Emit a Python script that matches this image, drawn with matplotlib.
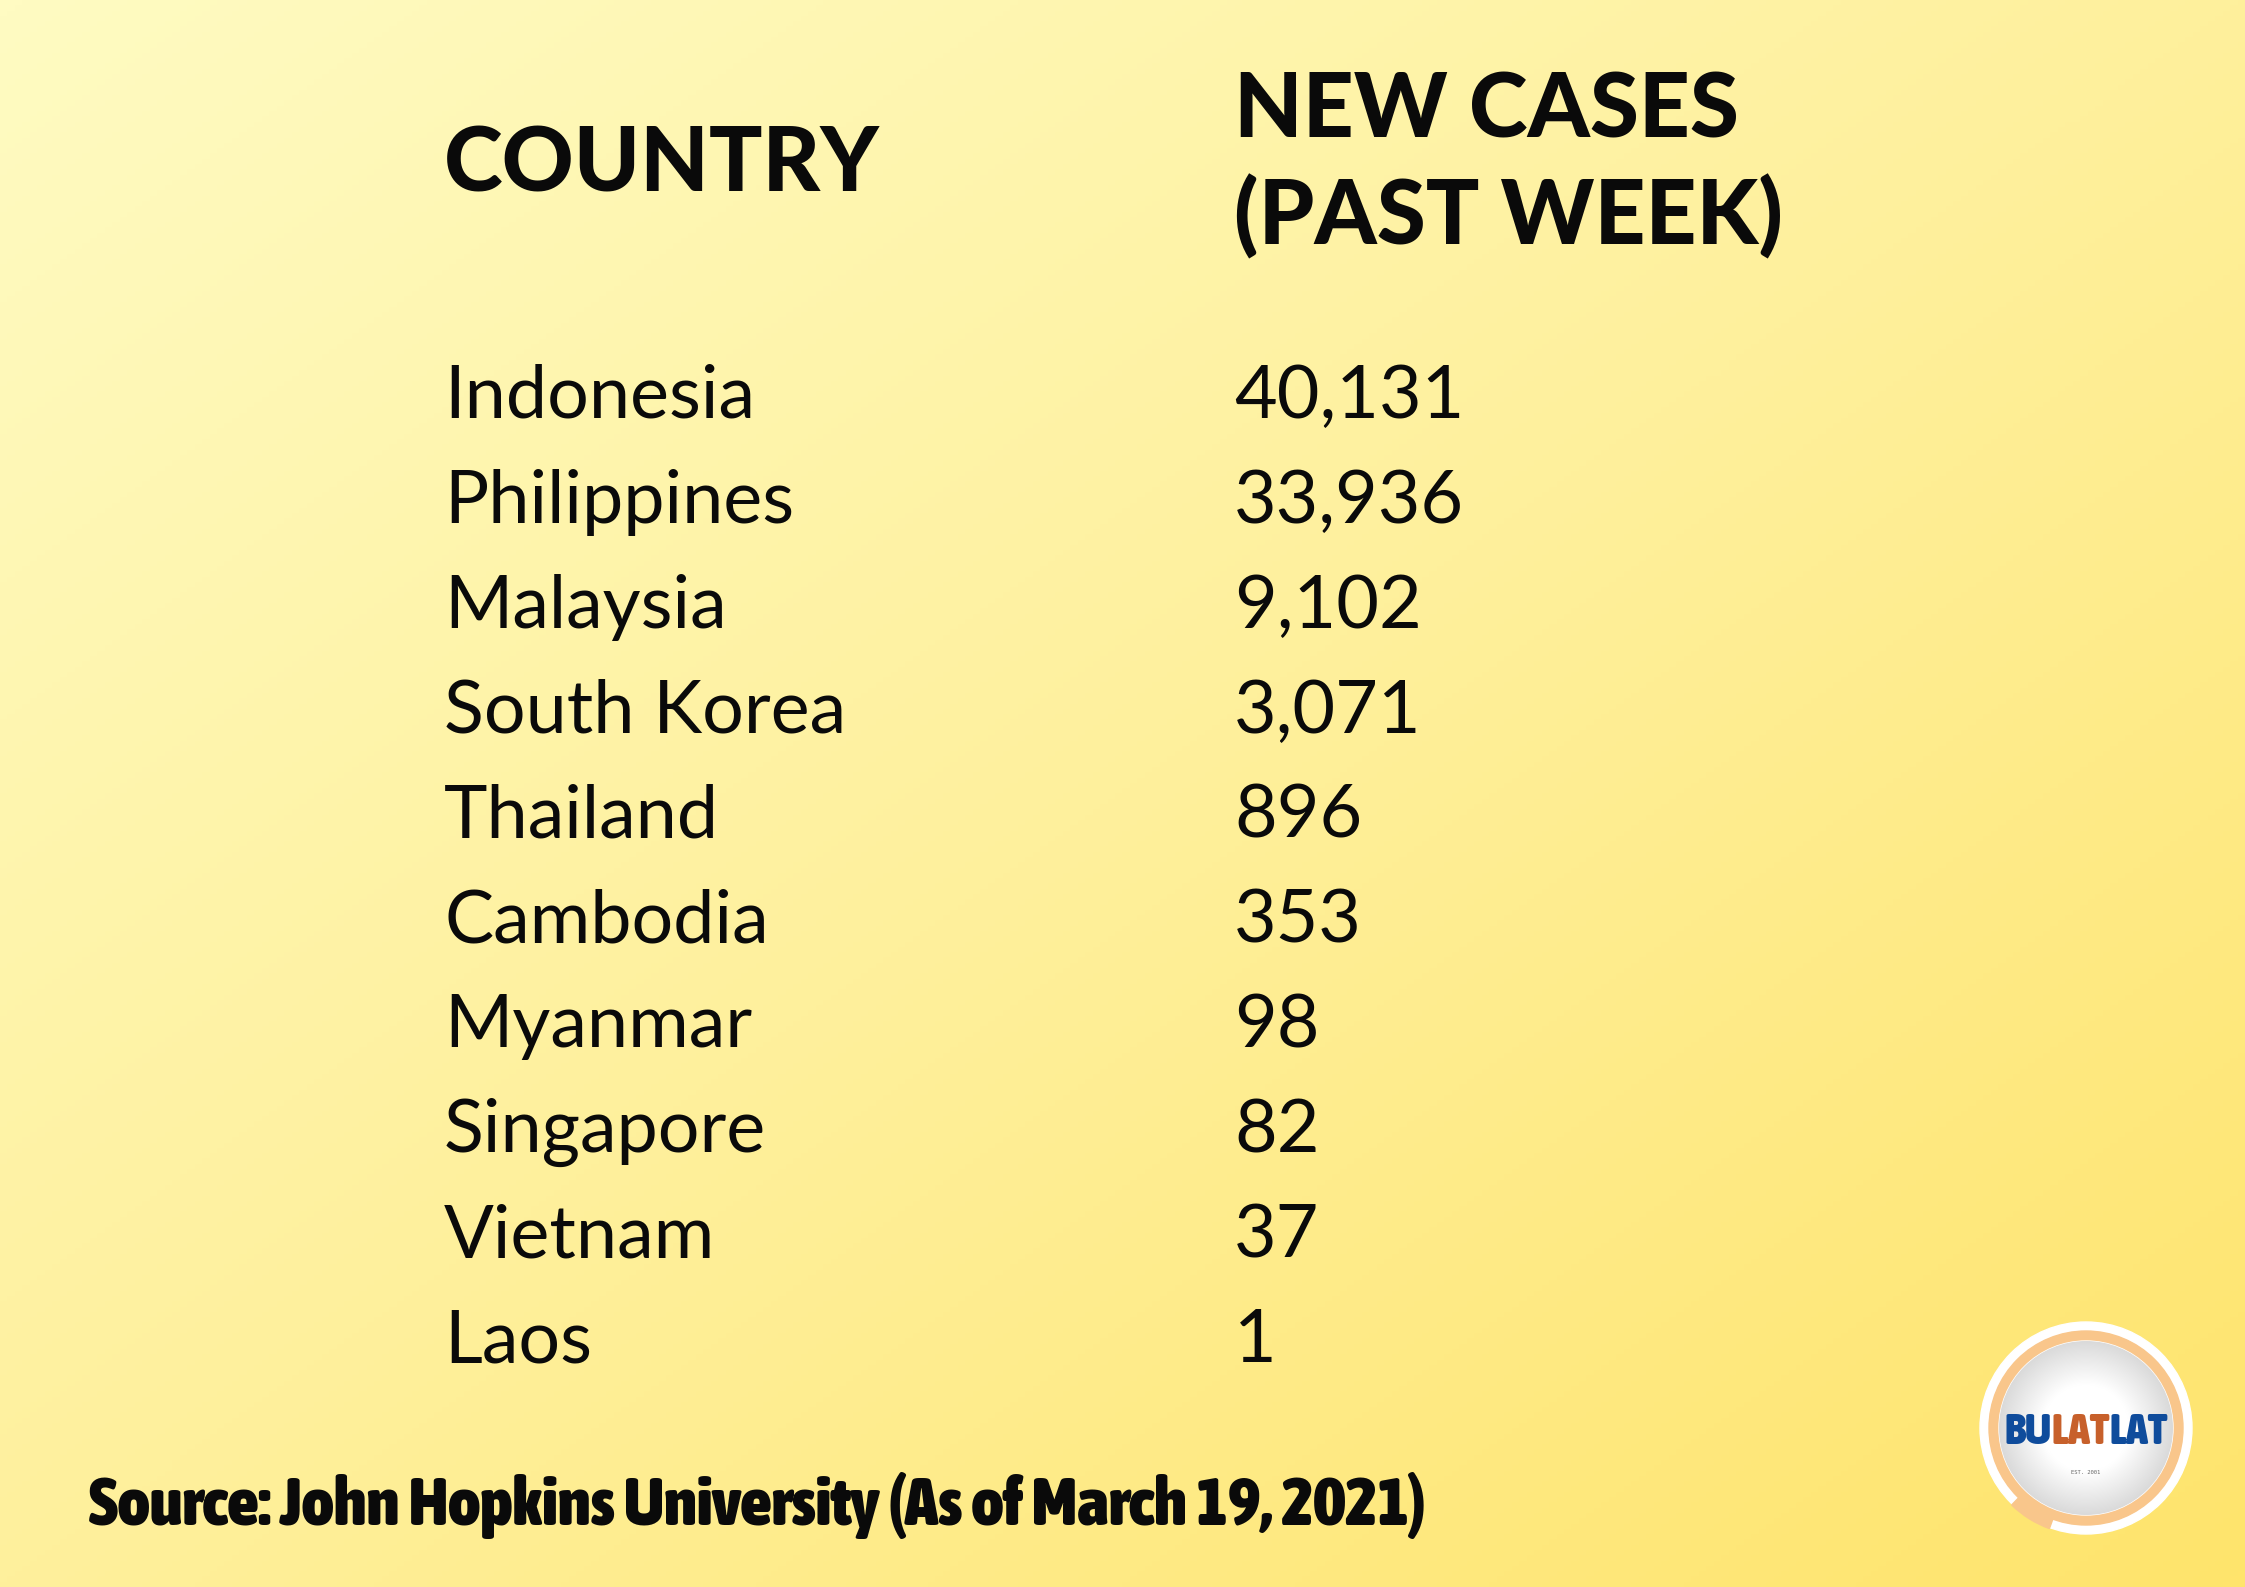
import numpy as np
import matplotlib
matplotlib.use("Agg")
import matplotlib.pyplot as plt
from matplotlib import font_manager as fm
from matplotlib.patches import Circle, Wedge
from matplotlib.colors import LinearSegmentedColormap

# table data
header_country = "COUNTRY"
header_cases = ["NEW CASES", "(PAST WEEK)"]
countries = ["Indonesia", "Philippines", "Malaysia", "South Korea", "Thailand",
             "Cambodia", "Myanmar", "Singapore", "Vietnam", "Laos"]
new_cases = [40131, 33936, 9102, 3071, 896, 353, 98, 82, 37, 1]
source_text = "Source: John Hopkins University (As of March 19, 2021)"
logo_parts = [("BU", "#0F4C9C"), ("LAT", "#C7602B"), ("LAT", "#0F4C9C")]


def wnum(w):
    if isinstance(w, str):
        return fm.weight_dict.get(w, 400)
    return int(w)


def pick_font(cond, default_family, default_weight):
    # look through installed fonts, take the heaviest one that passes cond
    best = None
    for f in fm.fontManager.ttflist:
        if cond(f):
            key = (wnum(f.weight),)
            if best is None or key > best[0]:
                best = (key, f.fname)
    if best is not None:
        return fm.FontProperties(fname=best[1])
    return fm.FontProperties(family=default_family, weight=default_weight)


narrow_words = ("Narrow", "Condensed", "Compressed")
condensed = pick_font(
    lambda f: (f.stretch in ("condensed", "semi-condensed", "extra-condensed", "ultra-condensed")
               or any(k in f.name for k in narrow_words)) and wnum(f.weight) >= 600,
    "DejaVu Sans", "bold")
heavy = pick_font(lambda f: f.name == "Lato" and wnum(f.weight) <= 900, "Lato", "black")

W, H = 2245, 1587
fig = plt.figure(figsize=(W / 100, H / 100), dpi=100)
ax = fig.add_axes([0, 0, 1, 1])
ax.set_xlim(0, W)
ax.set_ylim(H, 0)
ax.axis("off")
renderer = fig.canvas.get_renderer()

# diagonal yellow gradient background
bg = LinearSegmentedColormap.from_list("bg", ["#FFFBC2", "#FEF09C", "#FFE46C"])
xx, yy = np.meshgrid(np.linspace(0, 1, 300), np.linspace(0, 1, 300))
ax.imshow((xx + yy) / 2, cmap=bg, extent=(0, W, H, 0), aspect="auto", zorder=0)

# column headers
ax.text(444, 192, header_country, fontproperties=heavy, fontsize=64,
        color="#0a0a0a", va="baseline", ha="left")
for line, base in zip(header_cases, [137, 244]):
    ax.text(1234, base, line, fontproperties=heavy, fontsize=64,
            color="#0a0a0a", va="baseline", ha="left")

# rows
first_base, step = 418, 104.9
for i, (c, v) in enumerate(zip(countries, new_cases)):
    y = first_base + i * step
    ax.text(444, y, c, fontsize=53, family="Lato", weight="normal",
            color="#0a0a0a", va="baseline", ha="left")
    ax.text(1234, y, f"{v:,}", fontsize=53, family="Lato", weight="normal",
            color="#0a0a0a", va="baseline", ha="left")

# source line, shrunk if the font is wider than the original one
src = ax.text(89, 1525, source_text, fontproperties=condensed, fontsize=49,
              color="#0a0a0a", va="baseline", ha="left")
sw = src.get_window_extent(renderer).width
if sw > 1219 * 1.12:
    src.set_fontsize(49 * 1219 * 1.12 / sw)

# logo
cx, cy = 2086, 1428
ax.add_patch(Circle((cx, cy), 106, color="white", zorder=2))
ax.add_patch(Circle((cx, cy), 97, color="#F9C68B", zorder=3))
ax.add_patch(Wedge((cx, cy), 107, 110, 134, width=20, color="#F9C68B", zorder=3))
disc = Circle((cx, cy), 87, color="white", zorder=4)
ax.add_patch(disc)
rx, ry = np.meshgrid(np.linspace(-1, 1, 200), np.linspace(-1, 1, 200))
rr = np.sqrt(rx ** 2 + ry ** 2)
shade = LinearSegmentedColormap.from_list("sh", ["#FFFFFF", "#FFFFFF", "#DADADA"])
im = ax.imshow(rr, cmap=shade, vmin=0, vmax=1, extent=(cx - 87, cx + 87, cy + 87, cy - 87),
               zorder=5, aspect="auto")
im.set_clip_path(disc)

word = "".join(s for s, _ in logo_parts)
probe = ax.text(0, 0, word, fontproperties=condensed, fontsize=50)
pw = probe.get_window_extent(renderer).width
probe.remove()
lfs = min(50 * 164 / pw, 50)
lw = pw * lfs / 50
cap = lfs * 100 / 72 * 0.72
t = ax.text(cx - lw / 2, cy + cap / 2, logo_parts[0][0], fontproperties=condensed,
            fontsize=lfs, color=logo_parts[0][1], va="baseline", ha="left", zorder=6)
for s, col in logo_parts[1:]:
    t = ax.annotate(s, xy=(1, 0), xycoords=t, xytext=(0, 0), textcoords="offset points",
                    fontproperties=condensed, fontsize=lfs,
                    color=col, va="bottom", ha="left", zorder=6)
ax.text(cx, 1472, "EST. 2001", fontsize=4, family="DejaVu Sans Mono", color="#666666",
        ha="center", va="center", zorder=6)

fig.savefig("out.png", dpi=100)
